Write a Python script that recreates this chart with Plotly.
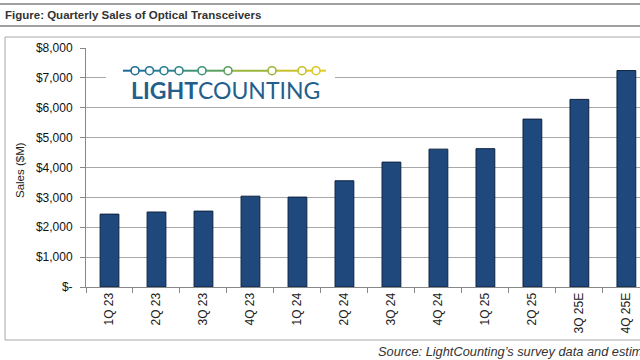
import plotly.graph_objects as go

quarters = ["1Q 23", "2Q 23", "3Q 23", "4Q 23", "1Q 24", "2Q 24", "3Q 24", "4Q 24",
            "1Q 25", "2Q 25", "3Q 25E", "4Q 25E"]
sales = [2440, 2510, 2540, 3040, 3010, 3555, 4180, 4615, 4630, 5620, 6280, 7245]
ytick_vals = [0, 1000, 2000, 3000, 4000, 5000, 6000, 7000, 8000]
ytick_text = ["$-", "$1,000", "$2,000", "$3,000", "$4,000", "$5,000", "$6,000", "$7,000", "$8,000"]

W, H = 640, 360
L, R, T, B = 86, 0, 48, 73
PW, PH = W - L - R, H - T - B


def px(x):
    return (x - L) / PW


def py(y):
    return (H - B - y) / PH


fig = go.Figure(go.Bar(
    x=quarters, y=sales, width=0.4,
    marker=dict(color="#1f497d", line=dict(color="#0e2240", width=1)),
))

shapes = []
# header rules
shapes.append(dict(type="line", xref="paper", yref="paper", x0=px(0), x1=px(640), y0=py(4), y1=py(4),
                   line=dict(color="#a0a0a0", width=2)))
shapes.append(dict(type="line", xref="paper", yref="paper", x0=px(0), x1=px(640), y0=py(26), y1=py(26),
                   line=dict(color="#a0a0a0", width=2)))
# chart frame
shapes.append(dict(type="rect", xref="paper", yref="paper", x0=px(5), x1=px(660), y0=py(340), y1=py(37),
                   line=dict(color="#a8a8a8", width=1), fillcolor="rgba(0,0,0,0)", layer="below"))
# logo background
shapes.append(dict(type="rect", xref="paper", yref="paper", x0=px(106), x1=px(335), y0=py(104), y1=py(55),
                   line=dict(width=0), fillcolor="white", layer="above"))
# logo line segments and circles
cx = [123, 135, 149.5, 164, 179, 202, 228, 272, 302, 316, 326]
cols = ["#1d6a96", "#1d6a96", "#21739a", "#267c96", "#2d848c", "#3f9276", "#5a9e5e", "#9ab53a", "#c6c02c", "#dcc820", "#e2cc1c"]
cy = 70.7
for i in range(len(cx) - 1):
    shapes.append(dict(type="line", xref="paper", yref="paper", x0=px(cx[i]), x1=px(cx[i + 1]),
                       y0=py(cy), y1=py(cy), line=dict(color=cols[i + 1], width=2), layer="above"))
r = 4
for i in range(1, len(cx) - 1):
    shapes.append(dict(type="circle", xref="paper", yref="paper", x0=px(cx[i] - r), x1=px(cx[i] + r),
                       y0=py(cy + r), y1=py(cy - r), line=dict(color=cols[i], width=1.6),
                       fillcolor="white", layer="above"))

annotations = [
    dict(text="<b>Figure: Quarterly Sales of Optical Transceivers</b>", xref="paper", yref="paper",
         x=px(3), y=py(15), xanchor="left", yanchor="middle", showarrow=False,
         font=dict(family="Liberation Sans, Arial", size=11.5, color="#333")),
    dict(text="<b>LIGHT</b>COUNTING", xref="paper", yref="paper",
         x=px(225), y=py(90), xanchor="center", yanchor="middle", showarrow=False,
         font=dict(family="Lato", size=23, color="#235f8d")),
    dict(text="Sales ($M)", xref="paper", yref="paper", x=px(20), y=py(170), textangle=-90,
         xanchor="center", yanchor="middle", showarrow=False,
         font=dict(family="Liberation Sans, Arial", size=11.5, color="#222")),
    dict(text="<i>Source: LightCounting’s survey data and estimates</i>", xref="paper", yref="paper",
         x=px(376), y=py(351), xanchor="left", yanchor="middle", showarrow=False,
         font=dict(family="Liberation Sans, Arial", size=12.8, color="#333")),
]

fig.update_layout(
    width=W, height=H, margin=dict(l=L, r=R, t=T, b=B, pad=0, autoexpand=False),
    paper_bgcolor="white", plot_bgcolor="white", showlegend=False,
    shapes=shapes, annotations=annotations, bargap=0.6,
)
fig.update_xaxes(type="category", range=[-0.5, 11.29], tickangle=-90, ticks="outside", ticklen=5,
                 tickson="boundaries", tickcolor="#888", showline=True, linecolor="#888", linewidth=1,
                 showgrid=False, automargin=False,
                 tickfont=dict(family="Liberation Sans, Arial", size=12, color="#222"))
fig.update_yaxes(range=[0, 8000], tickvals=ytick_vals, ticktext=ytick_text, ticks="outside", ticklen=5,
                 tickcolor="#888", showline=True, linecolor="#888", linewidth=1, showgrid=True,
                 gridcolor="#a8a8a8", gridwidth=1, zeroline=False, ticklabelstandoff=5, automargin=False,
                 tickfont=dict(family="Liberation Sans, Arial", size=12, color="#111"))

fig.write_html("out.html", config={"displayModeBar": False},
               post_script="document.body.style.margin='0';document.body.style.overflow='hidden';")
